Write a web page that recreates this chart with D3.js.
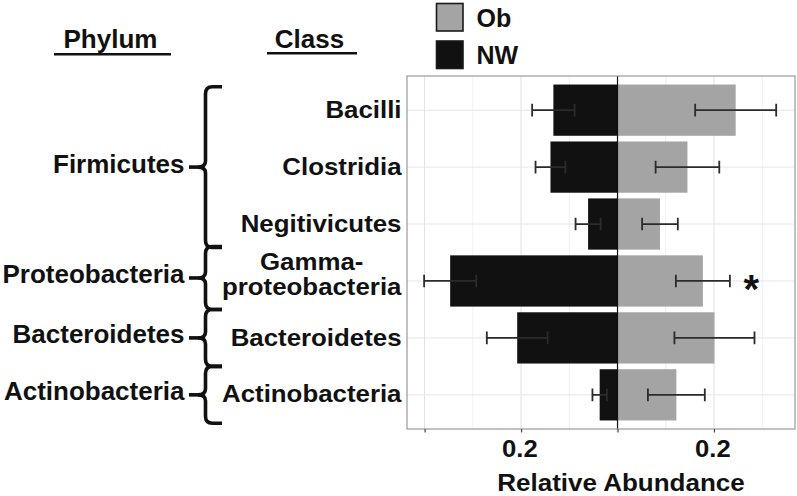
<!DOCTYPE html>
<html><head><meta charset="utf-8">
<script src="https://cdn.jsdelivr.net/npm/d3@7"></script>
<style>
html,body{margin:0;padding:0;background:#fff;}
svg{display:block;font-family:"Liberation Sans",Arial,Helvetica,sans-serif;font-weight:bold;}
</style></head>
<body>
<svg id="chart" width="797" height="496"></svg>
<script>
// ---- data ----
const classes = ["Bacilli", "Clostridia", "Negitivicutes", "Gamma-\nproteobacteria", "Bacteroidetes", "Actinobacteria"];
const nwMean = [0.133, 0.139, 0.061, 0.347, 0.208, 0.037];
const nwErr  = [0.044, 0.031, 0.026, 0.054, 0.063, 0.015];
const obMean = [0.245, 0.145, 0.088, 0.177, 0.201, 0.122];
const obErr  = [0.084, 0.066, 0.037, 0.056, 0.083, 0.059];
const phyla = ["Firmicutes", "Proteobacteria", "Bacteroidetes", "Actinobacteria"];
const phylaStart = [0, 3, 4, 5];
const phylaEnd = [2, 3, 4, 5];
const significant = [false, false, false, true, false, false];
const tickValues = [-0.4, -0.2, 0, 0.2];
const tickLabels = ["", "0.2", "", "0.2"];
const minorTicks = [-0.3, -0.1, 0.1, 0.3];
const seriesNames = ["Ob", "NW"];
const seriesColors = ["#a4a4a4", "#111111"];

// ---- layout ----
const svg = d3.select("#chart");
const panel = {left: 407, right: 795, top: 76, bottom: 429};
const SX = 1.1; // horizontal stretch of the plot's own text

const x = d3.scaleLinear().domain([-0.4365, 0.368]).range([panel.left, panel.right]);
const y = d3.scaleBand().domain(classes).range([panel.top, panel.bottom])
  .paddingInner(0.1).paddingOuter(0.15);
const step = y.step();
const cy = c => y(c) + y.bandwidth() / 2;

// grid
const g = svg.append("g");
g.selectAll("line.minor").data(minorTicks).join("line")
  .attr("x1", d => x(d)).attr("x2", d => x(d))
  .attr("y1", panel.top).attr("y2", panel.bottom)
  .attr("stroke", "#f0f0f0").attr("stroke-width", 1);
g.selectAll("line.major").data(tickValues).join("line")
  .attr("x1", d => x(d)).attr("x2", d => x(d))
  .attr("y1", panel.top).attr("y2", panel.bottom)
  .attr("stroke", "#e0e0e0").attr("stroke-width", 1);
g.selectAll("line.hmaj").data(classes).join("line")
  .attr("x1", panel.left).attr("x2", panel.right)
  .attr("y1", d => cy(d)).attr("y2", d => cy(d))
  .attr("stroke", "#e6e6e6").attr("stroke-width", 1);

// bars
const rows = classes.map((c, i) => ({c, i, nw: nwMean[i], nwe: nwErr[i], ob: obMean[i], obe: obErr[i]}));
g.selectAll("rect.nw").data(rows).join("rect")
  .attr("x", d => x(-d.nw)).attr("width", d => x(0) - x(-d.nw))
  .attr("y", d => y(d.c)).attr("height", y.bandwidth())
  .attr("fill", seriesColors[1]);
g.selectAll("rect.ob").data(rows).join("rect")
  .attr("x", x(0)).attr("width", d => x(d.ob) - x(0))
  .attr("y", d => y(d.c)).attr("height", y.bandwidth())
  .attr("fill", seriesColors[0]);

// error bars
const eb = (lo, hi) => {
  const h = 6.3;
  const grp = g.append("g").attr("stroke", "#2b2b2b").attr("stroke-width", 1.8).attr("fill", "none");
  grp.selectAll("path").data(rows).join("path")
    .attr("d", d => {
      const a = x(lo(d)), b = x(hi(d)), yy = cy(d.c);
      return `M${a},${yy-h}V${yy+h}M${a},${yy}H${b}M${b},${yy-h}V${yy+h}`;
    });
};
eb(d => -(d.nw + d.nwe), d => -(d.nw - d.nwe));
eb(d => d.ob - d.obe, d => d.ob + d.obe);

// zero line
g.append("line").attr("x1", x(0)).attr("x2", x(0))
  .attr("y1", panel.top).attr("y2", panel.bottom)
  .attr("stroke", "#111").attr("stroke-width", 1.2);

// panel border
g.append("rect").attr("x", panel.left).attr("y", panel.top)
  .attr("width", panel.right - panel.left).attr("height", panel.bottom - panel.top)
  .attr("fill", "none").attr("stroke", "#9a9a9a").attr("stroke-width", 1.2);

// significance
g.selectAll("text.sig").data(rows.filter(d => significant[d.i])).join("text")
  .attr("x", d => x(d.ob + d.obe) + 21.5).attr("y", d => cy(d.c) + 22.5)
  .attr("text-anchor", "middle").attr("font-size", 40).attr("fill", "#111").text("*");

// x axis
const xAxis = d3.axisBottom(x).tickValues(tickValues)
  .tickFormat((d, i) => tickLabels[i]).tickSize(3.5).tickPadding(8);
const ax = svg.append("g").attr("transform", `translate(0,${panel.bottom})`).call(xAxis);
ax.select(".domain").remove();
ax.selectAll(".tick line").attr("stroke", "#444").attr("stroke-width", 1.2);
ax.selectAll(".tick text").attr("font-size", 23.3).attr("font-weight", "bold")
  .attr("font-family", "Liberation Sans, Arial, sans-serif").attr("fill", "#111")
  .attr("dy", null).attr("y", 27.7).attr("x", -1.5)
  .attr("transform", `scale(${SX},1)`);

svg.append("text").attr("transform", `translate(621,491) scale(1.07,1)`).attr("text-anchor", "middle")
  .attr("font-size", 24.3).attr("fill", "#111").text("Relative Abundance");

// class labels
const classRight = 401.5;
const classSize = 23.5;
const cl = svg.append("g").attr("fill", "#111");
rows.forEach(d => {
  const lines = d.c.split("\n");
  if (lines.length === 1) {
    cl.append("text").attr("transform", `translate(${classRight},${cy(d.c) + 7.6}) scale(${SX},1)`)
      .attr("text-anchor", "end").attr("font-size", classSize).text(lines[0]);
  } else {
    const tmp = cl.append("text").attr("font-size", classSize).text(lines[1]);
    const w = tmp.node().getComputedTextLength() * SX;
    tmp.remove();
    const t = cl.append("text").attr("font-size", classSize).attr("text-anchor", "middle")
      .attr("transform", `translate(${classRight - w / 2},${cy(d.c)}) scale(${SX},1)`);
    lines.forEach((ln, k) => {
      t.append("tspan").attr("x", 0).attr("y", -11.4 + k * 25).text(ln);
    });
  }
});

// braces + phylum labels
const br = svg.append("g");
phyla.forEach((p, i) => {
  const c0 = cy(classes[phylaStart[i]]), c1 = cy(classes[phylaEnd[i]]);
  const top = c0 - (i === 0 ? 0.41 : 0.5) * step + (i === 1 ? -6 : 0);
  const bot = c1 + (i === 0 ? 0.41 : 0.5) * step;
  const mid = (top + bot) / 2;
  const xr = 222, xs = 205.5, xt = 198, r = 7;
  br.append("path").attr("fill", "none").attr("stroke", "#111").attr("stroke-width", 3.6)
    .attr("d", `M${xr},${top}H${xs+r}Q${xs},${top} ${xs},${top+r}V${mid-6}Q${xs},${mid} ${xt},${mid}Q${xs},${mid} ${xs},${mid+6}V${bot-r}Q${xs},${bot} ${xs+r},${bot}H${xr}`);
  br.append("line").attr("x1", 189).attr("x2", xt + 1).attr("y1", mid).attr("y2", mid)
    .attr("stroke", "#111").attr("stroke-width", 3.6);
  br.append("text").attr("x", 184.5).attr("y", mid + 5.5)
    .attr("text-anchor", "end").attr("font-size", 26).attr("fill", "#111").text(p);
});

// headers
const headers = [{t: "Phylum", cx: 110.5, x1: 54, x2: 171, ly: 54.3}, {t: "Class", cx: 309.5, x1: 267, x2: 357, ly: 53.3}];
headers.forEach(h => {
  svg.append("text").attr("x", h.cx).attr("y", 48.3)
    .attr("text-anchor", "middle").attr("font-size", 26).attr("fill", "#111").text(h.t);
  svg.append("line").attr("x1", h.x1).attr("x2", h.x2).attr("y1", h.ly).attr("y2", h.ly)
    .attr("stroke", "#111").attr("stroke-width", 2.6);
});

// legend
const lg = svg.append("g");
seriesNames.forEach((s, i) => {
  lg.append("rect").attr("x", 436.5).attr("y", 3.5 + i * 37.5).attr("width", 26.5).attr("height", 27.5)
    .attr("fill", seriesColors[i]).attr("stroke", "#1a1a1a").attr("stroke-width", 1.6);
  lg.append("text").attr("x", 476.5).attr("y", 26.7 + i * 36.8).attr("font-size", 25)
    .attr("fill", "#111").text(s);
});
</script>
</body></html>
